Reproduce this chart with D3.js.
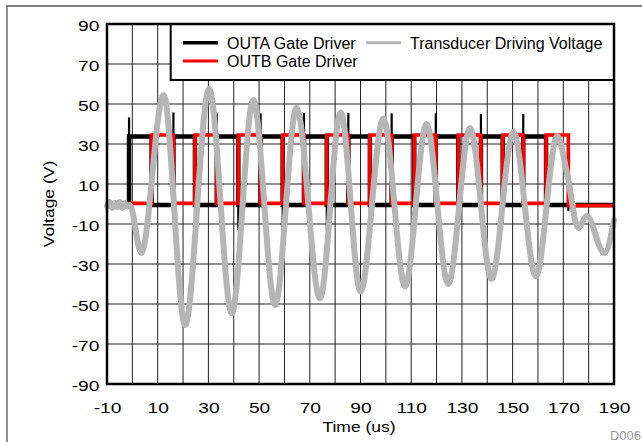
<!DOCTYPE html>
<html>
<head>
<meta charset="utf-8">
<script src="https://cdn.jsdelivr.net/npm/d3@7"></script>
<style>
  body { margin: 0; background: #fff; }
  svg { display: block; font-family: "Liberation Sans", Arial, Helvetica, sans-serif; }
</style>
</head>
<body>
<svg id="chart" width="642" height="442"></svg>
<script>
// values: time in us, voltage in V
const xTickLabels = [-10, 10, 30, 50, 70, 90, 110, 130, 150, 170, 190];
const xGridLines = [0, 10, 20, 30, 40, 50, 60, 70, 80, 90, 100, 110, 120, 130, 140, 150, 160, 170, 180];
const yTickLabels = [-90, -70, -50, -30, -10, 10, 30, 50, 70, 90];

// OUTB (red) switching edges
const outbRise = [7.6, 24.7, 41.8, 59.3, 76.7, 93.7, 111.2, 128.6, 146.1, 163.2];
const outbFall = [16.2, 33.3, 50.6, 67.7, 85.2, 102.3, 119.7, 137.5, 154.2, 172.0];
const burstStart = -1.3;
const outaLevels = { high: 33.7, low: -0.5 };
const outbLevels = { high: 34.5, low: 0.3, tail: -0.8 };

// OUTA (black) ringing spikes at its edges: [time, peak]
const outaSpikesUp = [[-1.3, 43.3], [16.2, 45.8], [33.3, 45.3], [50.6, 45.3], [67.7, 45.6], [85.2, 45.6], [102.3, 45.3], [119.7, 45.3], [137.5, 45], [154.2, 45]];
const outaSpikesDown = [[24.7, -12.8], [41.8, -13], [59.3, -13.2], [76.7, -13], [93.7, -12.6], [111.2, -12.6], [128.6, -12.5], [146.1, -9.7], [163.2, -6.3], [172.0, -3.5]];

// transducer voltage (grey): [time, volts]
const transducer = [
  [-10, -1], [-9, 1], [-8, -2], [-7, 0.5], [-6, -1.5], [-5, 1], [-4, -2], [-3, 0.5], [-2, -1.2], [-1, -0.5],
  [3.5, -24.5], [12.3, 54.5], [20.8, -60.5], [30.3, 57.5], [39.2, -54.6], [47.7, 52],
  [56.3, -50.5], [64.8, 48], [74.0, -47.3], [82.2, 45.8], [90.0, -43.8], [99.0, 42.8],
  [107.6, -41.3], [116.0, 40], [124.6, -40], [133.2, 38], [141.7, -37.5], [150.3, 36],
  [159.2, -36.3], [167.6, 34], [171.6, 14.5], [175.9, -12], [179.2, -6], [186.2, -24.5], [190, -8]
];

const svg = d3.select('#chart');
const x = d3.scaleLinear().domain([-10, 190]).range([107, 614]);
const y = d3.scaleLinear().domain([-90, 90]).range([384, 24]);

// page frame
svg.append('path').attr('d', 'M7,442V6H642').attr('fill', 'none')
  .attr('stroke', '#555').attr('stroke-width', 1.3);

// grid
svg.append('g').selectAll('line').data(xGridLines).enter().append('line')
  .attr('x1', d => x(d)).attr('x2', d => x(d))
  .attr('y1', y(90)).attr('y2', y(-90))
  .attr('stroke', '#222').attr('stroke-width', 1);
svg.append('g').selectAll('line').data(yTickLabels.slice(1, -1)).enter().append('line')
  .attr('x1', x(-10)).attr('x2', x(190))
  .attr('y1', d => y(d)).attr('y2', d => y(d))
  .attr('stroke', '#222').attr('stroke-width', 1);

// build the step traces from the edge times
const outb = [[burstStart, outbLevels.low]];
const outa = [[burstStart, outaLevels.low], [burstStart, outaLevels.high]];
outbRise.forEach((r, i) => {
  const f = outbFall[i];
  outb.push([r, outbLevels.low], [r, outbLevels.high], [f, outbLevels.high], [f, outbLevels.low]);
  outa.push([r, outaLevels.high], [r, outaLevels.low], [f, outaLevels.low]);
  if (i < outbRise.length - 1) outa.push([f, outaLevels.high]);
});
outb.push([outbFall[outbFall.length - 1], outbLevels.tail], [190, outbLevels.tail]);
outa.push([190, outaLevels.low]);

const line = d3.line().x(d => x(d[0])).y(d => y(d[1]));

svg.append('path').datum(outa).attr('d', line).attr('fill', 'none')
  .attr('stroke', '#000').attr('stroke-width', 4.5);

svg.append('g').selectAll('line').data(outaSpikesUp.concat(outaSpikesDown)).enter().append('line')
  .attr('x1', d => x(d[0])).attr('x2', d => x(d[0]))
  .attr('y1', d => y(d[1] > 20 ? outaLevels.high : outaLevels.low))
  .attr('y2', d => y(d[1]))
  .attr('stroke', '#000').attr('stroke-width', 2.2);

svg.append('path').datum(outb).attr('d', line).attr('fill', 'none')
  .attr('stroke', '#ff0000').attr('stroke-width', 3.6);

svg.append('path').datum(transducer)
  .attr('d', d3.line().x(d => x(d[0])).y(d => y(d[1])).curve(d3.curveMonotoneX))
  .attr('fill', 'none').attr('stroke', '#b5b5b5').attr('stroke-width', 6)
  .attr('stroke-linejoin', 'round').attr('stroke-linecap', 'round');

// axes (labels only, the frame is drawn as a box)
const fmt = d => String(d);
const xAxis = svg.append('g').attr('transform', 'translate(0,384)')
  .call(d3.axisBottom(x).tickValues(xTickLabels).tickFormat(fmt).tickSize(0).tickPadding(18.6));
const yAxis = svg.append('g').attr('transform', 'translate(107,0)')
  .call(d3.axisLeft(y).tickValues(yTickLabels).tickFormat(fmt).tickSize(0).tickPadding(5.9));
[xAxis, yAxis].forEach(g => {
  g.select('.domain').remove();
  g.selectAll('text').attr('font-family', '"Liberation Sans", Arial, sans-serif')
    .attr('font-size', 15).attr('fill', '#000').attr('transform', 'scale(1.28,1)');
});
yAxis.selectAll('text').attr('dy', '0.45em');

svg.append('text').attr('transform', 'translate(359,432) scale(1.13,1)')
  .attr('text-anchor', 'middle').attr('font-size', 15.5).text('Time (us)');
svg.append('text').attr('transform', 'translate(54,204) rotate(-90) scale(1.13,1)')
  .attr('text-anchor', 'middle').attr('font-size', 15.5).text('Voltage (V)');
svg.append('text').attr('x', 641).attr('y', 440).attr('text-anchor', 'end')
  .attr('font-size', 13).attr('fill', '#999').text('D006');

// legend
const legend = svg.append('g');
legend.append('rect').attr('x', 170.7).attr('y', 24).attr('width', 443.3).attr('height', 56)
  .attr('fill', '#fff').attr('stroke', '#000').attr('stroke-width', 2);
const legendItems = [
  { label: 'OUTA Gate Driver', color: '#000', lx: 183, ly: 42.7, w: 3.4 },
  { label: 'OUTB Gate Driver', color: '#ff0000', lx: 183, ly: 61, w: 3 },
  { label: 'Transducer Driving Voltage', color: '#b5b5b5', lx: 366, ly: 42.7, w: 3 }
];
legendItems.forEach(it => {
  legend.append('line').attr('x1', it.lx).attr('x2', it.lx + 35)
    .attr('y1', it.ly).attr('y2', it.ly).attr('stroke', it.color).attr('stroke-width', it.w);
  legend.append('text').attr('x', it.lx + 44).attr('y', it.ly + 6.3)
    .attr('font-size', 16).attr('fill', '#000').text(it.label);
});

// plot frame
svg.append('rect').attr('x', 107).attr('y', 24).attr('width', 507).attr('height', 360)
  .attr('fill', 'none').attr('stroke', '#000').attr('stroke-width', 2.5);
</script>
</body>
</html>
